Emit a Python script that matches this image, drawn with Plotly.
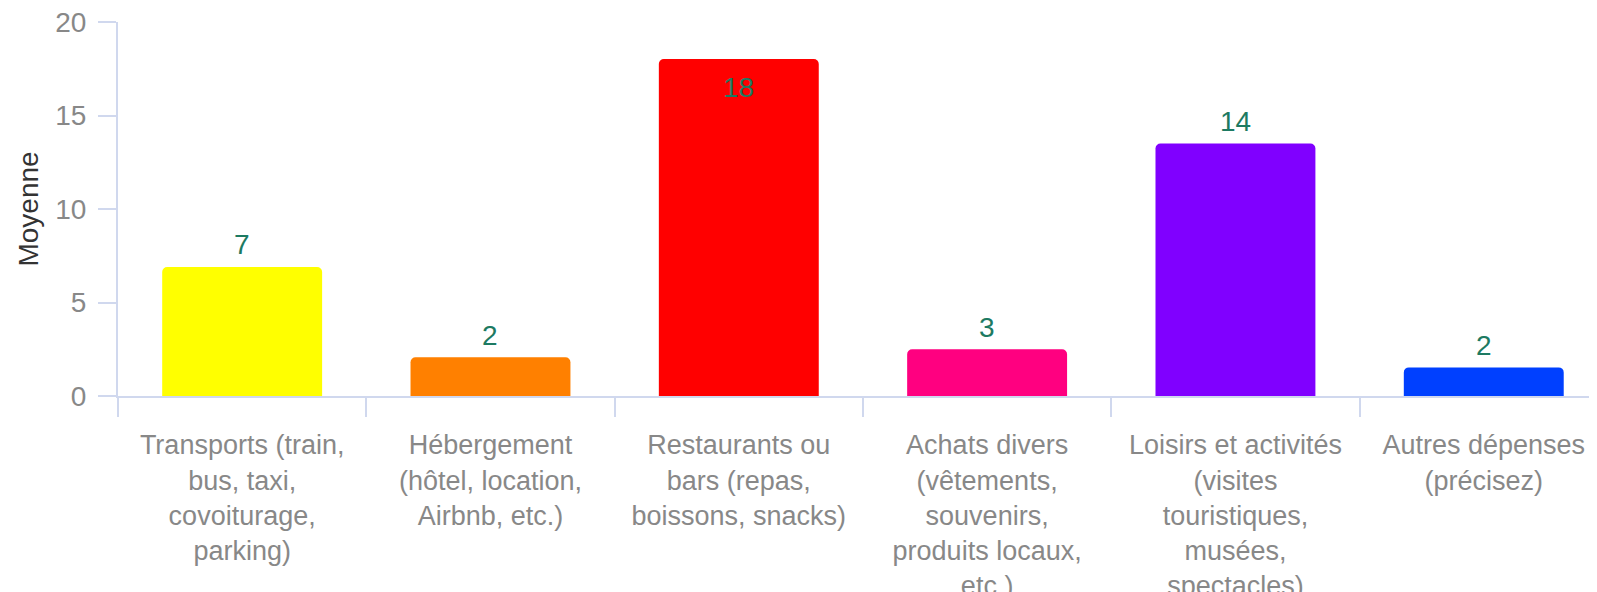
import plotly.graph_objects as go

categories = [
    "Transports (train,<br>bus, taxi,<br>covoiturage,<br>parking)",
    "Hébergement<br>(hôtel, location,<br>Airbnb, etc.)",
    "Restaurants ou<br>bars (repas,<br>boissons, snacks)",
    "Achats divers<br>(vêtements,<br>souvenirs,<br>produits locaux,<br>etc.)",
    "Loisirs et activités<br>(visites<br>touristiques,<br>musées,<br>spectacles)",
    "Autres dépenses<br>(précisez)",
]
values = [6.9, 2.07, 18.02, 2.5, 13.5, 1.53]
labels = ["7", "2", "18", "3", "14", "2"]
colors = ["#ffff00", "#ff8000", "#ff0000", "#ff0080", "#8000ff", "#0040ff"]
label_inside = [False, False, True, False, False, False]

FONT = "Liberation Sans, Arial, sans-serif"
LABEL_COLOR = "#1d7a62"
AXIS_COLOR = "#d0d8ee"
FS = 27

fig = go.Figure(
    go.Bar(
        x=categories,
        y=values,
        marker=dict(color=colors, line=dict(width=0), cornerradius=5),
        hoverinfo="skip",
    )
)

# value labels placed at each bar's top
for cat, val, lab, inside in zip(categories, values, labels, label_inside):
    fig.add_annotation(
        x=cat,
        y=val,
        text=lab,
        showarrow=False,
        xanchor="center",
        yanchor="middle",
        yshift=-28 if inside else 22,
        font=dict(family=FONT, size=28, color=LABEL_COLOR),
    )

# the page body adds an 8px offset, so the figure is 8px smaller
fig.update_layout(
    width=1589,
    height=584,
    margin=dict(l=110, r=0, t=14, b=196),
    paper_bgcolor="white",
    plot_bgcolor="white",
    bargap=0.356,
    showlegend=False,
    font=dict(family=FONT, size=FS, color="#888888"),
)

fig.update_xaxes(
    type="category",
    range=[-0.5, 5.456],
    automargin=False,
    showline=True,
    linecolor=AXIS_COLOR,
    linewidth=2,
    ticks="outside",
    tickson="boundaries",
    ticklen=19,
    tickwidth=2,
    tickcolor=AXIS_COLOR,
    showgrid=False,
    tickangle=0,
    ticklabelstandoff=24,
    ticklabeloverflow="allow",
    tickfont=dict(family=FONT, size=FS, color="#888888"),
)

fig.update_yaxes(
    range=[0, 20],
    dtick=5,
    automargin=False,
    showline=True,
    linecolor=AXIS_COLOR,
    linewidth=2,
    ticks="outside",
    ticklen=18,
    tickwidth=2,
    tickcolor=AXIS_COLOR,
    showgrid=False,
    zeroline=False,
    ticklabelstandoff=6,
    ticklabeloverflow="allow",
    tickfont=dict(family=FONT, size=28, color="#888888"),
    title=dict(text="Moyenne", font=dict(family=FONT, size=28, color="#333333"), standoff=8),
)

fig.write_html("out.html")
